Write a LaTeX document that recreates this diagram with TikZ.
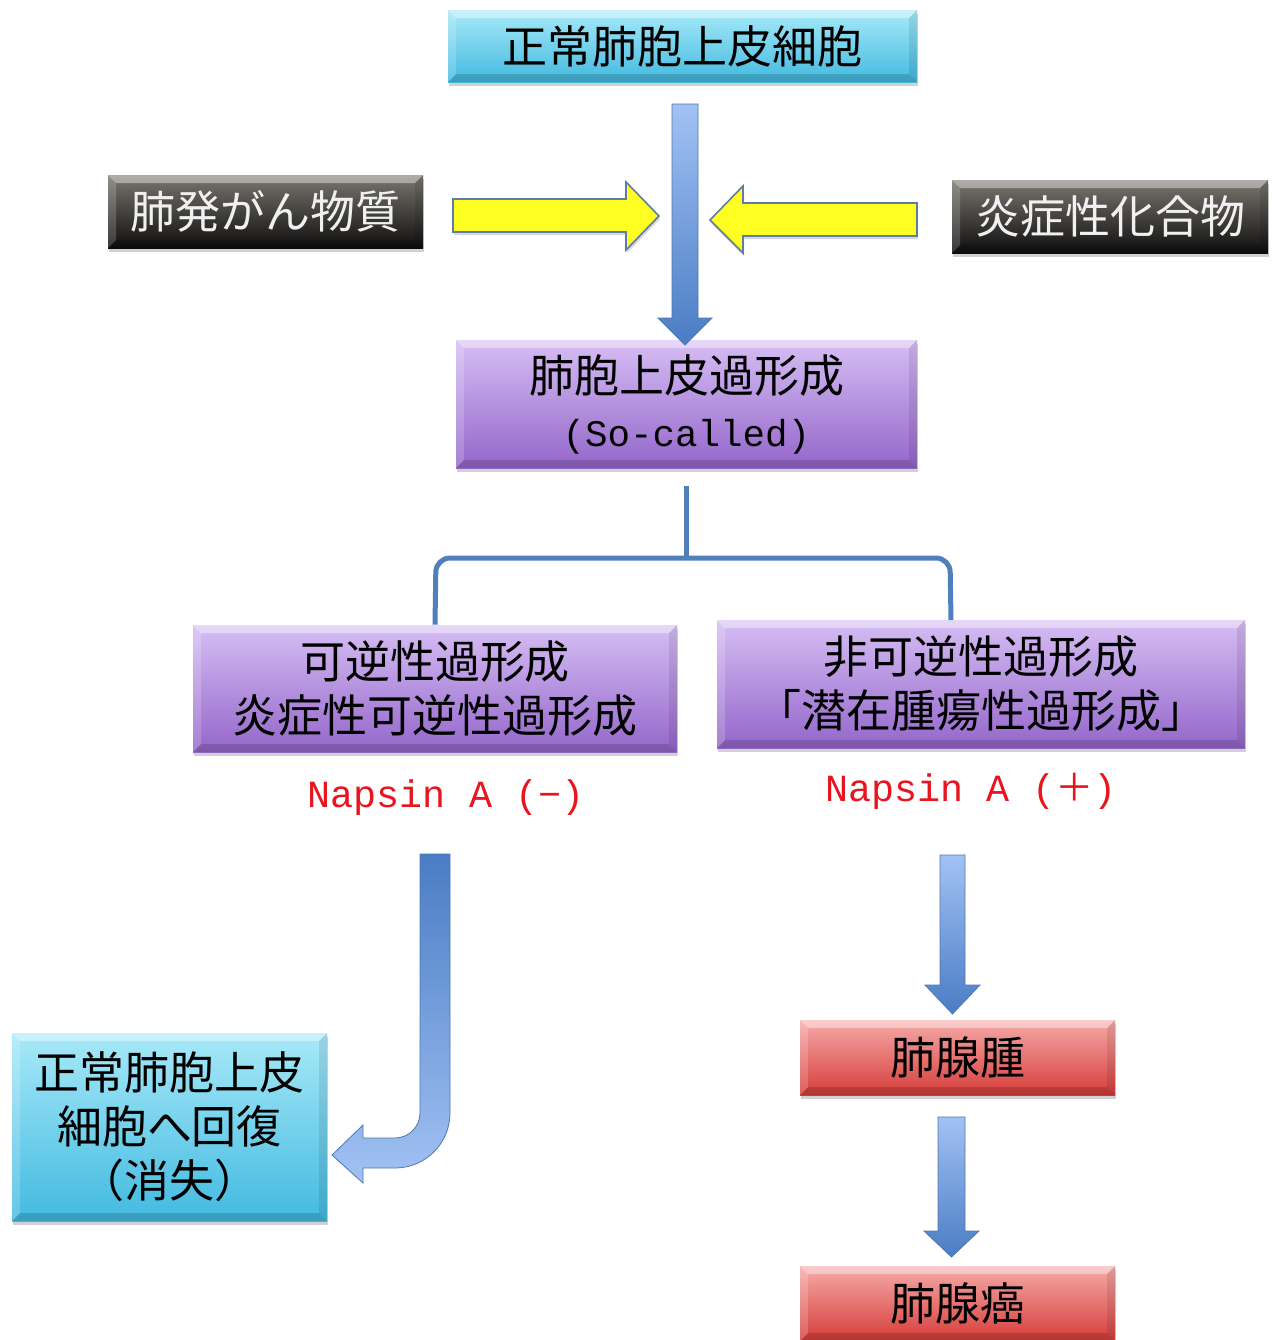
\documentclass[tikz,border=0pt]{standalone}
\usepackage{fontspec}
\newfontfamily\jp{Noto Sans CJK JP}
\newfontfamily\monof{Liberation Mono}
\usetikzlibrary{shadows}
\definecolor{cyanT}{HTML}{A8E9F8}
\definecolor{cyanB}{HTML}{42BAE0}
\definecolor{purT}{HTML}{D6BEF4}
\definecolor{purB}{HTML}{9466CA}
\definecolor{blkT}{HTML}{7A766F}
\definecolor{blkB}{HTML}{0E0E0E}
\definecolor{redT}{HTML}{F6AAA8}
\definecolor{redB}{HTML}{D53D3A}
\definecolor{arrL}{HTML}{A2C2F4}
\definecolor{arrD}{HTML}{4A7CC4}
\definecolor{arrE}{HTML}{4F78B2}
\definecolor{yel}{HTML}{FFFF22}
\definecolor{yelE}{HTML}{5D7CA6}
\definecolor{brk}{HTML}{5080BC}
\definecolor{napred}{HTML}{E8141E}
\tikzset{
 bevel/.style={path picture={
   \fill[white,opacity=0.4] (path picture bounding box.north west) -- (path picture bounding box.north east) -- ([shift={(-4pt,-4pt)}]path picture bounding box.north east) -- ([shift={(4pt,-4pt)}]path picture bounding box.north west) -- cycle;
   \fill[black,opacity=0.15] (path picture bounding box.south west) -- (path picture bounding box.south east) -- ([shift={(-4pt,4pt)}]path picture bounding box.south east) -- ([shift={(4pt,4pt)}]path picture bounding box.south west) -- cycle;
   \fill[white,opacity=0.18] (path picture bounding box.north west) -- ([shift={(4pt,-4pt)}]path picture bounding box.north west) -- ([shift={(4pt,4pt)}]path picture bounding box.south west) -- (path picture bounding box.south west) -- cycle;
   \fill[black,opacity=0.09] (path picture bounding box.north east) -- ([shift={(-4pt,-4pt)}]path picture bounding box.north east) -- ([shift={(-4pt,4pt)}]path picture bounding box.south east) -- (path picture bounding box.south east) -- cycle;
 }},
 box/.style={rectangle, inner sep=0pt, align=center, bevel, text=black,
   font=\jp\fontsize{22.5}{27}\selectfont,
   drop shadow={shadow xshift=0.4pt, shadow yshift=-1.8pt, opacity=0.18, fill=black}},
 cyanbox/.style={box, top color=cyanT, bottom color=cyanB},
 purbox/.style={box, top color=purT, bottom color=purB},
 blkbox/.style={box, top color=blkT, bottom color=blkB, text=white!94!black},
 redbox/.style={box, top color=redT, bottom color=redB},
 blockarrow/.style={top color=arrL, bottom color=arrD, draw=arrE, line width=0.4pt},
 yelarrow/.style={fill=yel, draw=yelE, line width=0.8pt,
   drop shadow={shadow xshift=0.5pt, shadow yshift=-1.5pt, opacity=0.15, fill=black}},
 bracket/.style={draw=brk, line width=2.5pt},
 napsin/.style={font=\monof\fontsize{19.2}{23}\selectfont, text=napred, inner sep=0pt},
}
\begin{document}
\begin{tikzpicture}[x=0.5pt,y=-0.5pt]
\useasboundingbox[fill=white] (0,0) rectangle (1272,1340);

% boxes
\node[cyanbox, minimum width=234.5pt, minimum height=36pt] (top) at (682.5,46) {正常肺胞上皮細胞};
\node[blkbox, minimum width=157.5pt, minimum height=36.5pt] (carc) at (265.5,211.5) {肺発がん物質};
\node[blkbox, minimum width=158pt, minimum height=36.5pt] (infl) at (1110,216.5) {炎症性化合物};
\node[purbox, minimum width=230.5pt, minimum height=64pt] (hyp) at (686.5,404) {肺胞上皮過形成\\{\monof\fontsize{18.75}{27}\selectfont (So-called)}};
\node[purbox, minimum width=242pt, minimum height=63.5pt] (rev) at (435,688.5) {可逆性過形成\\炎症性可逆性過形成};
\node[purbox, minimum width=264pt, minimum height=64pt] (irr) at (981,684) {非可逆性過形成\\「潜在腫瘍性過形成」};
\node[napsin] (napm) at (446,798) {Napsin A (−)};
\node[napsin] (napp) at (971,791) {Napsin A ({\jp\fontsize{19.2}{23}\selectfont ＋})};
\node[cyanbox, minimum width=157.5pt, minimum height=94pt] (back) at (169.5,1127) {正常肺胞上皮\\細胞へ回復\\（消失）};
\node[redbox, minimum width=157.5pt, minimum height=37.5pt] (aden) at (957.5,1057.5) {肺腺腫};
\node[redbox, minimum width=157.5pt, minimum height=37.5pt] (adca) at (957.5,1303.5) {肺腺癌};

% yellow arrows
\path[yelarrow] (453,199) -- (626,199) -- (626,182) -- (659,216) -- (626,250) -- (626,232) -- (453,232) -- cycle;
\path[yelarrow] (917,203) -- (743,203) -- (743,186) -- (710,220) -- (743,253) -- (743,236) -- (917,236) -- cycle;

% top blue arrow
\path[blockarrow] (672,104) -- (698,104) -- (698,318) -- (712,318) -- (685,345) -- (658,318) -- (672,318) -- cycle;

% bracket connector
\coordinate (stemtop) at (686,486);
\coordinate (stemjoin) at (686,558);
\draw[bracket] (stemtop) -- (stemjoin);
\draw[bracket, rounded corners=7pt] (rev.north) -- (436,558) -- (950,558) -- (951,620);

% curved arrow back to normal
\path[blockarrow, top color=arrD, bottom color=arrL]
  (420,854) -- (450,854) -- (450,1113)
  .. controls (450,1143.4) and (425.4,1168) .. (395,1168)
  -- (363,1168) -- (363,1183) -- (332,1155) -- (363,1125) -- (363,1138) -- (395,1138)
  .. controls (408.8,1138) and (420,1126.8) .. (420,1113) -- cycle;

% right down arrows
\path[blockarrow] (940,855) -- (965,855) -- (965,985) -- (980,985) -- (952.5,1014) -- (925,985) -- (940,985) -- cycle;
\path[blockarrow] (938,1117) -- (965,1117) -- (965,1231) -- (979,1231) -- (951.5,1257) -- (924,1231) -- (938,1231) -- cycle;
\end{tikzpicture}
\end{document}
